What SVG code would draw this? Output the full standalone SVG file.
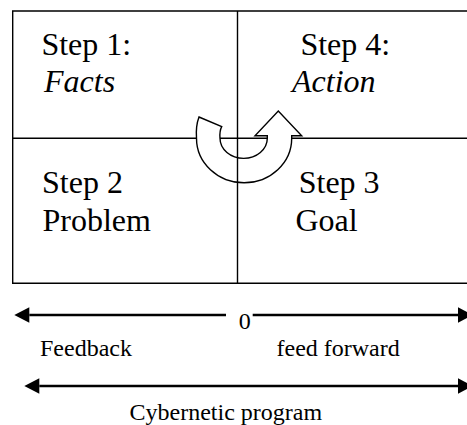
<svg xmlns="http://www.w3.org/2000/svg" width="467" height="425" viewBox="0 0 467 425">
  <style>
    text { font-family: 'Liberation Serif', 'Times New Roman', Times, 'DejaVu Serif', serif; fill: #000; }
    .big { font-size: 32px; }
    .small { font-size: 24px; }
    .it { font-style: italic; }
    .frame { fill: none; stroke: #000; stroke-width: 1.4; }
    .scale { stroke: #000; stroke-width: 2.6; fill: none; }
  </style>
  <defs>
    <marker id="head" markerUnits="userSpaceOnUse" markerWidth="16" markerHeight="16" refX="0" refY="7.7" orient="auto-start-reverse" overflow="visible">
      <path d="M0,0 L15,7.7 L0,15.4 Z" fill="#000"/>
    </marker>
  </defs>
  <rect width="467" height="425" fill="#fff"/>

  <!-- outer frame, open on the right -->
  <path class="frame" d="M480,11 H12.7 V283.3 H480"/>
  <!-- horizontal divider (sits under the cycle arrow) -->
  <line class="frame" x1="12.7" y1="138.3" x2="480" y2="138.3"/>

  <g id="step1" font-family="Liberation Serif, serif">
    <text class="big" x="41.4" y="55">Step 1:</text>
    <text class="big it" x="44" y="92">Facts</text>
  </g>
  <g id="step4" font-family="Liberation Serif, serif">
    <text class="big" x="300.4" y="55">Step 4:</text>
    <text class="big it" x="292" y="92">Action</text>
  </g>
  <g id="step2" font-family="Liberation Serif, serif">
    <text class="big" x="42" y="193.3">Step 2</text>
    <text class="big" x="42.5" y="231">Problem</text>
  </g>
  <g id="step3" font-family="Liberation Serif, serif">
    <text class="big" x="298.7" y="193.3">Step 3</text>
    <text class="big" x="295.5" y="231">Goal</text>
  </g>

  <!-- U-turn cycle arrow -->
  <g id="cycle">
    <path d="M199,117 L221.7,126.7 Q219.4,131 220,138.3 A23.6 20 0 0 0 267.3,138.3 L267.3,135.7 L255,135.7 L278.3,111 L301.7,135.7 L291.7,135.7 L291.7,138.3 A47.6 44.5 0 0 1 196.5,138.3 Q195.6,126 199,117 Z" fill="#fff" stroke="#000" stroke-width="1.4" stroke-linejoin="miter"/>
  </g>

  <!-- vertical divider drawn over the arrow -->
  <line class="frame" x1="237.5" y1="11" x2="237.5" y2="283.3"/>

  <g id="connectors">
    <line class="scale" x1="29.3" y1="315" x2="226" y2="315" marker-start="url(#head)"/>
    <line class="scale" x1="252.7" y1="315" x2="458" y2="315" marker-end="url(#head)"/>
    <line class="scale" x1="39.3" y1="386" x2="458" y2="386" marker-start="url(#head)" marker-end="url(#head)"/>
  </g>

  <g id="scale-labels" font-family="Liberation Serif, serif">
    <text class="small" x="238.7" y="329.3">0</text>
    <text class="small" x="40" y="356">Feedback</text>
    <text class="small" x="276.5" y="356">feed forward</text>
    <text class="small" x="129.5" y="420">Cybernetic program</text>
  </g>
</svg>
